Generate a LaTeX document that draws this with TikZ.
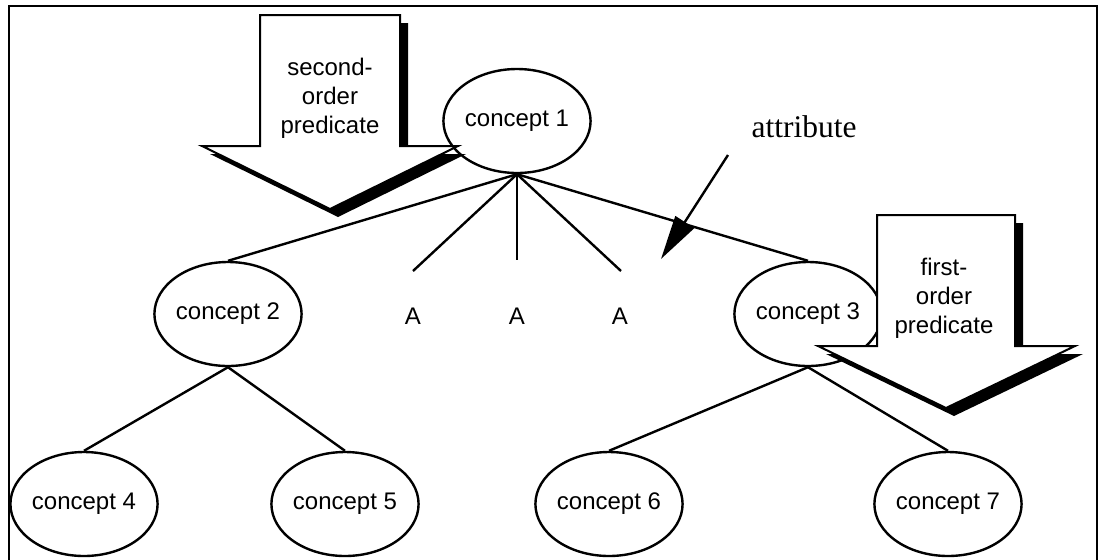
\documentclass[tikz,border=0pt]{standalone}
\usepackage{fontspec}
\setmainfont{Liberation Sans}
\newfontfamily\timesfont{Liberation Serif}
\usetikzlibrary{shapes.geometric,arrows.meta}
\begin{document}
\begin{tikzpicture}[x=0.5pt,y=-0.5pt,
  concept/.style={ellipse, draw, line width=1.2pt, fill=white,
    minimum width=71pt, minimum height=52pt, inner sep=0pt,
    font=\fontsize{12}{14}\selectfont},
  label/.style={font=\fontsize{12}{14}\selectfont, inner sep=0pt},
  link/.style={line width=1.2pt},
  bigarrow/.style={fill=white, draw, line width=1pt},
  shadowfill/.style={fill=black},
  arrowtext/.style={align=center, inner sep=0pt,
    font=\fontsize{12}{14.5}\selectfont}]
  \useasboundingbox (0,0) rectangle (1100,559);
  \clip (0,0) rectangle (1100,559);

  % outer frame (runs past the lower edge)
  \draw[line width=1.1pt] (9,570) -- (9,6) -- (1097,6) -- (1097,570);

  % concept tree
  \node[concept] (c1) at (517,121) {concept 1};
  \node[concept] (c2) at (228,314) {concept 2};
  \node[concept] (c3) at (808,314) {concept 3};
  \node[concept] (c4) at (84,504) {concept 4};
  \node[concept] (c5) at (345,504) {concept 5};
  \node[concept] (c6) at (609,504) {concept 6};
  \node[concept] (c7) at (948,504) {concept 7};

  % attribute leaves
  \node[label] (a1) at (413,316) {A};
  \node[label] (a2) at (517,316) {A};
  \node[label] (a3) at (620,316) {A};
  \coordinate (e1) at (413,271);
  \coordinate (e2) at (517,260);
  \coordinate (e3) at (621,271);

  \draw[link] (c1.south) -- (c2.north);
  \draw[link] (c1.south) -- (e1);
  \draw[link] (c1.south) -- (e2);
  \draw[link] (c1.south) -- (e3);
  \draw[link] (c1.south) -- (c3.north);
  \draw[link] (c2.south) -- (c4.north);
  \draw[link] (c2.south) -- (c5.north);
  \draw[link] (c3.south) -- (c6.north);
  \draw[link] (c3.south) -- (c7.north);

  % attribute pointer
  \node[font=\timesfont\fontsize{15.75}{18}\selectfont, inner sep=0pt] (attr) at (804,127) {attribute};
  \coordinate (attrstart) at (728,155);
  \coordinate (attrtip) at (661,259);
  \draw[link, -{Triangle[length=22pt,width=11pt]}] (attrstart) -- (attrtip);

  % second-order predicate block arrow
  \fill[shadowfill, shift={(8,8)}] (260,15) -- (400,15) -- (400,146) -- (458,146)
    -- (330,209) -- (202,146) -- (260,146) -- cycle;
  \draw[bigarrow] (260,15) -- (400,15) -- (400,146) -- (458,146)
    -- (330,209) -- (202,146) -- (260,146) -- cycle;
  \node[arrowtext] (p2) at (330,98) {second-\\order\\predicate};

  % first-order predicate block arrow
  \fill[shadowfill, shift={(8,8)}] (877,215) -- (1015,215) -- (1015,346) -- (1075,346)
    -- (946,408) -- (818,346) -- (877,346) -- cycle;
  \draw[bigarrow] (877,215) -- (1015,215) -- (1015,346) -- (1075,346)
    -- (946,408) -- (818,346) -- (877,346) -- cycle;
  \node[arrowtext] (p1) at (944,298) {first-\\order\\predicate};
\end{tikzpicture}
\end{document}
